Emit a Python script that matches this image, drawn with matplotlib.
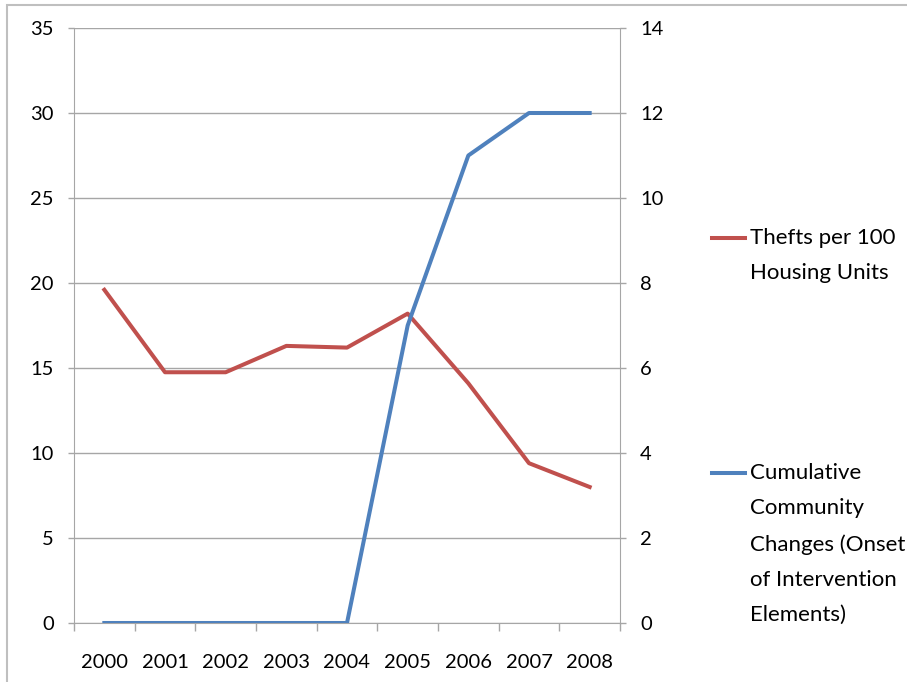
import matplotlib
matplotlib.use("Agg")
import matplotlib.pyplot as plt
from matplotlib.lines import Line2D
from matplotlib.patches import Rectangle

plt.rcParams['font.family'] = ['Lato', 'DejaVu Sans']

years = ["2000", "2001", "2002", "2003", "2004", "2005", "2006", "2007", "2008"]
thefts = [19.6, 14.75, 14.75, 16.3, 16.2, 18.2, 14.1, 9.4, 8.0]
changes = [0, 0, 0, 0, 0, 7, 11, 12, 12]
left_ticks = [0, 5, 10, 15, 20, 25, 30, 35]
right_ticks = [0, 2, 4, 6, 8, 10, 12, 14]
label_thefts = "Thefts per 100\nHousing Units"
label_changes = "Cumulative\nCommunity\nChanges (Onset\nof Intervention\nElements)"

red = "#C0504D"
blue = "#4F81BD"
grey = "#A6A6A6"
fs = 14.5

fig = plt.figure(figsize=(9.07, 6.82), dpi=100)
ax = fig.add_axes([74 / 907, 1 - 623 / 682, (620 - 74) / 907, (623 - 28) / 682])
ax2 = ax.twinx()

x = list(range(len(years)))
ax.plot(x, thefts, color=red, lw=2.9, zorder=3)
ax2.plot(x, changes, color=blue, lw=2.9, zorder=3)

ax.set_xlim(-0.5, len(years) - 0.5)
ax.set_ylim(0, 35)
ax2.set_ylim(0, 14)
ax.set_yticks(left_ticks)
ax2.set_yticks(right_ticks)
ax.set_xticks(x)
ax.set_xticklabels(years)
ax.set_xticks([i - 0.5 for i in range(len(years) + 1)], minor=True)

ax.yaxis.grid(True, color=grey, lw=1)
ax.set_axisbelow(True)
for a in (ax, ax2):
    for s in a.spines.values():
        s.set_visible(False)
ax.spines['left'].set_visible(True)
ax.spines['left'].set_color(grey)
ax.spines['bottom'].set_visible(True)
ax.spines['bottom'].set_color(grey)
ax2.spines['right'].set_visible(True)
ax2.spines['right'].set_color(grey)

ax.tick_params(axis='y', length=4.5, color=grey, width=1, pad=10, labelsize=fs)
ax2.tick_params(axis='y', length=4.5, color=grey, width=1, pad=10, labelsize=fs)
ax.tick_params(axis='x', which='major', length=0, pad=22, labelsize=fs)
ax.tick_params(axis='x', which='minor', length=5.5, color=grey, width=1)

# legend drawn to the right of the plot
for col, lab, ytop in [(red, label_thefts, 238), (blue, label_changes, 473)]:
    fig.add_artist(Line2D([712 / 907, 745 / 907], [1 - ytop / 682] * 2, color=col, lw=2.9))
    fig.text(750 / 907, 1 - (ytop - 10) / 682, lab, ha='left', va='top',
             fontsize=16, linespacing=1.95)

# outer frame
fig.add_artist(Rectangle((7 / 907, -0.1), 1.2, 1.1 - 5 / 682, transform=fig.transFigure,
                         fill=False, edgecolor="#BFBFBF", lw=1.5))

fig.savefig("out.png", dpi=100)
